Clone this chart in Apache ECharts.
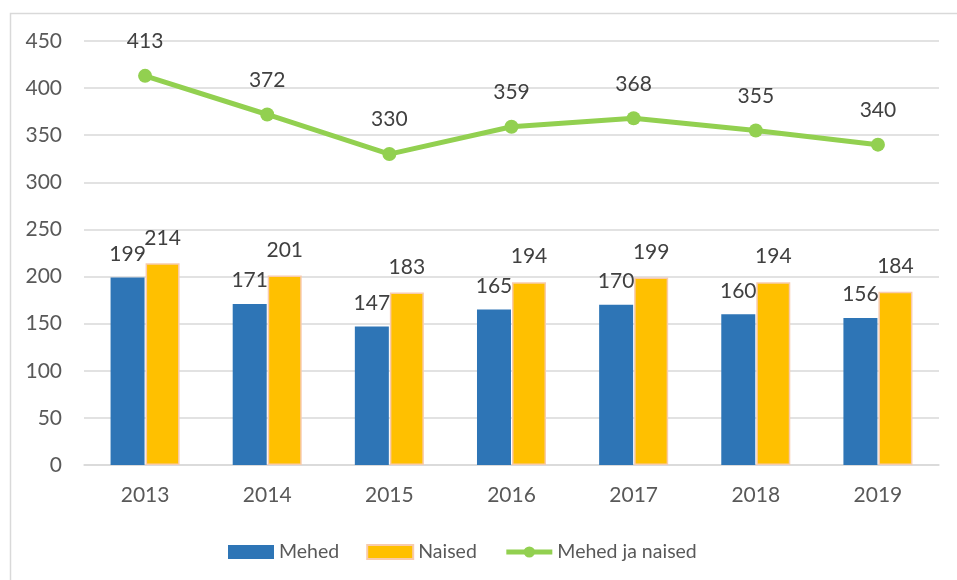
<!DOCTYPE html>
<html><head><meta charset="utf-8">
<script src="https://cdn.jsdelivr.net/npm/echarts@6/dist/echarts.min.js"></script>
<style>html,body{margin:0;padding:0;background:#fff}#c{width:957px;height:580px}</style>
</head><body><div id="c"></div>
<script>
const categories = ['2013','2014','2015','2016','2017','2018','2019'];
const mehed = [199,171,147,165,170,160,156];
const naised = [214,201,183,194,199,194,184];
const kokku = [413,372,330,359,368,355,340];
const yTicks = [0,50,100,150,200,250,300,350,400,450];

const FONT = 'Lato, "Open Sans", sans-serif';
const FS = 21;
const chart = echarts.init(document.getElementById('c'));
chart.setOption({
  animation: false,
  backgroundColor: '#fff',
  textStyle: {fontFamily: FONT},
  graphic: [{
    type: 'rect', left: 8, top: 11, silent: true,
    shape: {width: 960, height: 580},
    style: {fill: 'none', stroke: '#D9D9D9', lineWidth: 1.5}
  }],
  grid: {left: 84, right: 18, top: 41, bottom: 115, containLabel: false},
  legend: {
    top: 537, left: 223, itemWidth: 46, itemHeight: 14, itemGap: 27,
    lineStyle: {width: 5},
    textStyle: {fontSize: 19.5, color: '#595959', fontFamily: FONT, padding: [0,0,0,0]},
    data: [
      {name: 'Mehed', icon: 'rect'},
      {name: 'Naised', icon: 'rect'},
      {name: 'Mehed ja naised'}
    ]
  },
  xAxis: {
    type: 'category', data: categories,
    axisLine: {lineStyle: {color: '#D9D9D9', width: 1.5}},
    axisTick: {show: false},
    axisLabel: {fontSize: FS, color: '#595959', margin: 20, fontFamily: FONT}
  },
  yAxis: {
    type: 'value', min: yTicks[0], max: yTicks[yTicks.length-1], interval: 50,
    axisLine: {show: false}, axisTick: {show: false},
    splitLine: {lineStyle: {color: '#D9D9D9', width: 1.5}},
    axisLabel: {fontSize: FS, color: '#595959', margin: 22, fontFamily: FONT}
  },
  series: [
    {
      name: 'Mehed', type: 'bar', data: mehed, barWidth: 34, barGap: '3%',
      itemStyle: {color: '#2E75B6'},
      label: {show: true, position: 'top', distance: 13, fontSize: FS, color: '#404040', fontFamily: FONT}
    },
    {
      name: 'Naised', type: 'bar', data: naised, barWidth: 34,
      itemStyle: {color: '#FFC000', borderColor: '#F8CBAD', borderWidth: 1.5},
      label: {show: true, position: 'top', distance: 15, fontSize: FS, color: '#404040', fontFamily: FONT}
    },
    {
      name: 'Mehed ja naised', type: 'line', data: kokku,
      symbol: 'circle', symbolSize: 14,
      lineStyle: {color: '#92D050', width: 5},
      itemStyle: {color: '#92D050'},
      label: {show: true, position: 'top', distance: 17, fontSize: FS, color: '#404040', fontFamily: FONT}
    }
  ]
});
</script>
</body></html>
